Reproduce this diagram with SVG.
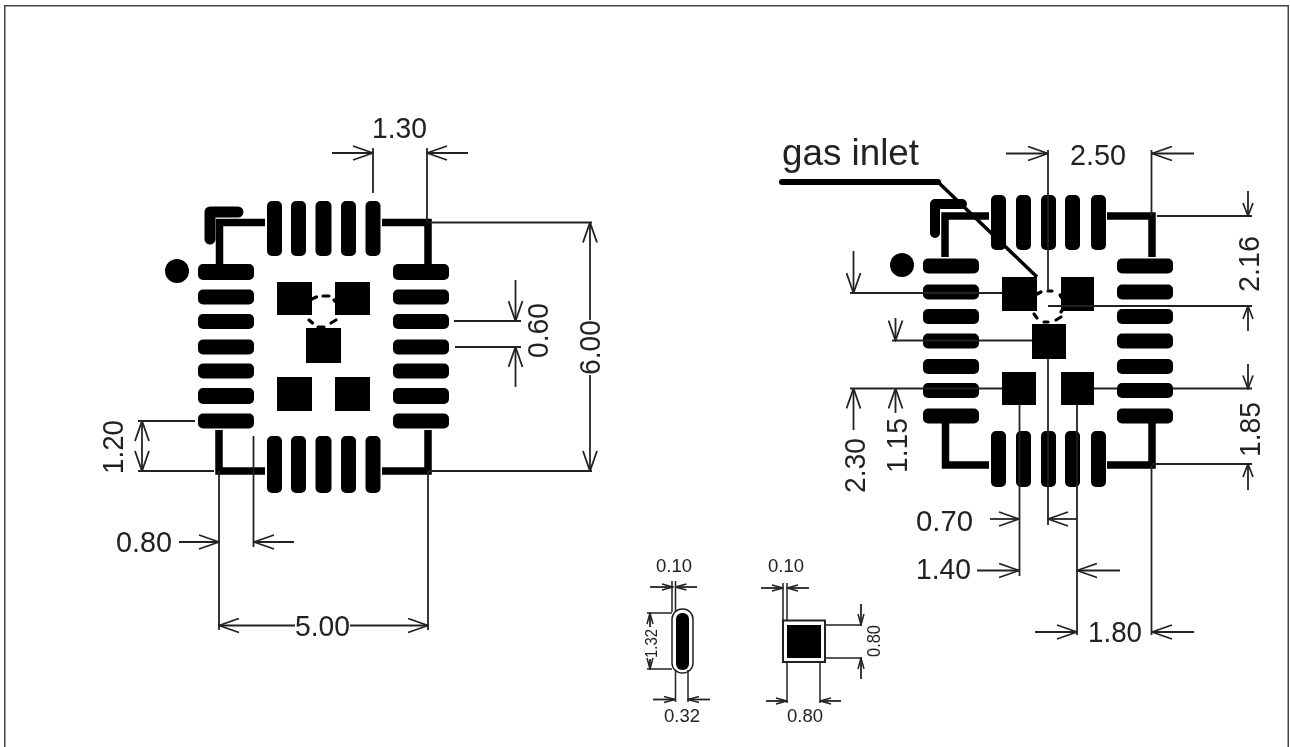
<svg xmlns="http://www.w3.org/2000/svg" width="1290" height="747" viewBox="0 0 1290 747">
<defs>
<filter id="soft" x="0" y="0" width="1" height="1" filterUnits="objectBoundingBox"><feGaussianBlur stdDeviation="0.5"/></filter>
<marker id="a" viewBox="0 0 22 16" refX="21" refY="8" markerWidth="22" markerHeight="16" markerUnits="userSpaceOnUse" orient="auto-start-reverse"><path d="M1 1L21 8L1 15" fill="none" stroke="#222" stroke-width="1.8"/></marker>
<marker id="m" viewBox="0 0 15 12" refX="14" refY="6" markerWidth="15" markerHeight="12" markerUnits="userSpaceOnUse" orient="auto-start-reverse"><path d="M1 1L14 6L1 11" fill="none" stroke="#222" stroke-width="1.7"/></marker>
<marker id="s" viewBox="0 0 13 8" refX="12" refY="4" markerWidth="13" markerHeight="8" markerUnits="userSpaceOnUse" orient="auto-start-reverse"><path d="M1 1L12 4L1 7" fill="none" stroke="#222" stroke-width="1.5"/></marker>
</defs>
<style>
.bg{fill:#fff}
.frame{fill:none;stroke:#444;stroke-width:3}
.pad{fill:#000}
.tr{fill:none;stroke:#000;stroke-width:7.5;stroke-linejoin:miter}
.dim{fill:none;stroke:#222;stroke-width:1.8}
.ar{marker-end:url(#a)}
.am{marker-end:url(#m)}
.as{marker-end:url(#s)}
.dash{fill:none;stroke:#000;stroke-width:3.2;stroke-linecap:round}
text{font-family:"Liberation Sans",Arial,sans-serif;fill:#222}
.t{font-size:30px}
.g{font-size:37px}
.x{font-size:19px}
.y{font-size:16px}
</style>
<rect class="bg" width="1290" height="747"/>
<g filter="url(#soft)">
<path class="frame" d="M4 747V5H1289V747"/>
<g id="left-package">
<circle class="pad" cx="177" cy="271" r="12"/>
<g id="left-top-pads" class="pad"><rect x="267" y="201" width="15" height="55" rx="5"/><rect x="291" y="201" width="15" height="55" rx="5"/><rect x="315.500" y="201" width="16" height="55" rx="5"/><rect x="341" y="201" width="15" height="55" rx="5"/><rect x="365.500" y="201" width="15" height="55" rx="5"/></g>
<g id="left-bottom-pads" class="pad"><rect x="267" y="436" width="15" height="57" rx="5"/><rect x="291" y="436" width="15" height="57" rx="5"/><rect x="315.500" y="436" width="16" height="57" rx="5"/><rect x="341" y="436" width="15" height="57" rx="5"/><rect x="365.500" y="436" width="15" height="57" rx="5"/></g>
<g id="left-west-pads" class="pad"><rect x="198" y="264" width="56" height="16" rx="5"/><rect x="198" y="289.500" width="56" height="15" rx="5"/><rect x="198" y="314" width="56" height="15" rx="5"/><rect x="198" y="339.500" width="56" height="15" rx="5"/><rect x="198" y="363.500" width="56" height="15" rx="5"/><rect x="198" y="388" width="56" height="16" rx="5"/><rect x="198" y="413.500" width="56" height="15" rx="5"/></g>
<g id="left-east-pads" class="pad"><rect x="393" y="264" width="56" height="16" rx="5"/><rect x="393" y="289.500" width="56" height="15" rx="5"/><rect x="393" y="314" width="56" height="15" rx="5"/><rect x="393" y="339.500" width="56" height="15" rx="5"/><rect x="393" y="363.500" width="56" height="15" rx="5"/><rect x="393" y="388" width="56" height="16" rx="5"/><rect x="393" y="413.500" width="56" height="15" rx="5"/></g>
<path class="tr" d="M238 212H210V239" style="stroke-width:11;stroke-linejoin:round;stroke-linecap:round"/>
<path class="tr" d="M265 222.500H219.500V264"/>
<path class="tr" d="M382 222.500H428V264"/>
<path class="tr" d="M219 430V471H265"/>
<path class="tr" d="M428 430V471H382"/>
<g id="left-squares" class="pad"><rect x="277" y="282" width="35" height="33"/><rect x="335" y="282" width="35" height="33"/><rect x="306" y="328" width="35" height="35"/><rect x="277" y="377" width="35" height="34"/><rect x="335" y="377" width="35" height="34"/></g>
<path class="dash" d="M312 299L316.500 297M323 296H329M334 300L336 302M309 320L312.500 323M331 323L336 320M318 327H324"/>
</g>
<g id="right-package">
<circle class="pad" cx="902" cy="265" r="12"/>
<g id="right-top-pads" class="pad"><rect x="991" y="195" width="15" height="55" rx="5"/><rect x="1016" y="195" width="15" height="55" rx="5"/><rect x="1041" y="195" width="15" height="55" rx="5"/><rect x="1065" y="195" width="15" height="55" rx="5"/><rect x="1091" y="195" width="15" height="55" rx="5"/></g>
<g id="right-bottom-pads" class="pad"><rect x="991" y="431" width="15" height="56" rx="5"/><rect x="1016" y="431" width="15" height="56" rx="5"/><rect x="1041" y="431" width="15" height="56" rx="5"/><rect x="1065" y="431" width="15" height="56" rx="5"/><rect x="1091" y="431" width="15" height="56" rx="5"/></g>
<g id="right-west-pads" class="pad"><rect x="923" y="258.500" width="56" height="15" rx="5"/><rect x="923" y="284.500" width="56" height="15" rx="5"/><rect x="923" y="309" width="56" height="15" rx="5"/><rect x="923" y="333.500" width="56" height="15" rx="5"/><rect x="923" y="359" width="56" height="15" rx="5"/><rect x="923" y="383" width="56" height="15" rx="5"/><rect x="923" y="408.500" width="56" height="15" rx="5"/></g>
<g id="right-east-pads" class="pad"><rect x="1117" y="258.500" width="56" height="15" rx="5"/><rect x="1117" y="284.500" width="56" height="15" rx="5"/><rect x="1117" y="309" width="56" height="15" rx="5"/><rect x="1117" y="333.500" width="56" height="15" rx="5"/><rect x="1117" y="359" width="56" height="15" rx="5"/><rect x="1117" y="383" width="56" height="15" rx="5"/><rect x="1117" y="408.500" width="56" height="15" rx="5"/></g>
<path class="tr" d="M962 204H935V233" style="stroke-width:10;stroke-linejoin:round;stroke-linecap:round"/>
<path class="tr" d="M989 216H945V257"/>
<path class="tr" d="M1107 216H1152V257"/>
<path class="tr" d="M945.500 423V465H989"/>
<path class="tr" d="M1152 423V465H1107"/>
<g id="right-squares" class="pad"><rect x="1002" y="277" width="35" height="34"/><rect x="1061" y="277" width="33" height="34"/><rect x="1032" y="324" width="34" height="35"/><rect x="1002" y="372" width="34" height="33"/><rect x="1061" y="372" width="33" height="33"/></g>
<path class="dash" d="M1037 294L1041 292M1048 291H1052M1060 295L1062 298M1034 314L1037 318M1056 320L1061 317M1044 322H1048M1061 312L1063 309"/>
</g>
<g id="pad-detail">
<rect x="672" y="609" width="21" height="64" rx="10" fill="none" stroke="#222" stroke-width="1.500"/>
<rect class="pad" x="676" y="613" width="13" height="57" rx="6"/>
</g>
<g id="square-detail">
<rect x="783" y="620.500" width="42" height="41.500" fill="none" stroke="#222" stroke-width="2"/>
<rect class="pad" x="787" y="625" width="34" height="33"/>
</g>
<g id="connectors">
<path d="M782 182H938" fill="none" stroke="#000" stroke-width="6" stroke-linecap="round"/>
<path d="M938 182L1037 277" fill="none" stroke="#000" stroke-width="3.500"/>
<path class="dim" d="M373 148V193M427 148V222M428 222.500H592M428 471H592M454 321H521M455 347H521M138 421H195M138 471H214M219 471V630M253.500 436V547M428 471V630"/>
<path class="dim ar" d="M332 153H373"/><path class="dim ar" d="M468 153H427"/>
<path class="dim ar" d="M590 320V222.500"/><path class="dim ar" d="M590 375V471"/>
<path class="dim ar" d="M515.500 280V321"/><path class="dim ar" d="M515.500 387V347"/>
<path class="dim ar" d="M142 446V421"/><path class="dim ar" d="M142 446V471"/>
<path class="dim ar" d="M179 542H219"/><path class="dim ar" d="M294 542H254"/>
<path class="dim ar" d="M295 625.500H219"/><path class="dim ar" d="M350 625.500H428"/>
<path class="dim" d="M1048 150V291M1151.500 150V216M1157 216H1252M1048 306H1252M1173 388.500H1252M1152 464H1252M850 293H1002M892 340.500H1032M850 388.500H1002M1094 388.500H1117M1019.500 405V576M1048 359V525M1077 405V635M1151.500 465V635"/>
<path class="dim ar" d="M1006 153.500H1048"/><path class="dim ar" d="M1194 153.500H1152"/>
<path class="dim am" d="M1248 191V216"/><path class="dim am" d="M1248 331V306"/>
<path class="dim am" d="M1248 364V388.500"/><path class="dim am" d="M1248 490V464"/>
<path class="dim ar" d="M853.500 251V293"/><path class="dim ar" d="M895.500 318V340.500"/>
<path class="dim ar" d="M853.500 430V388.500"/><path class="dim ar" d="M895.500 413V388.500"/>
<path class="dim ar" d="M990 519H1019"/><path class="dim ar" d="M1077 519H1048"/>
<path class="dim ar" d="M977 570.500H1019"/><path class="dim ar" d="M1120 570.500H1077"/>
<path class="dim ar" d="M1035 632H1077"/><path class="dim ar" d="M1194 632H1152"/>
<path class="dim" d="M672 581V612M675.500 581V612M675.500 670V702M688 670V702M647 613H672M647 669H672M783 583V620M787 583V620M825 625H862M825 658H862M787 662V703M820 662V703" style="stroke-width:1.500"/>
<path class="dim as" d="M650 587H673"/><path class="dim as" d="M697 587H675.500"/>
<path class="dim as" d="M653 699.500H675"/><path class="dim as" d="M710 699.500H688"/>
<path class="dim as" d="M650 627V613"/><path class="dim as" d="M650 659V669"/>
<path class="dim as" d="M761 588H783"/><path class="dim as" d="M809 588H787"/>
<path class="dim as" d="M861 604V625"/><path class="dim as" d="M861 679V658"/>
<path class="dim as" d="M766 701H787"/><path class="dim as" d="M841 701H820"/>
</g>
<g id="labels">
<text class="t" x="372" y="137.500" textLength="55" lengthAdjust="spacingAndGlyphs">1.30</text>
<text class="t" transform="translate(600 375) rotate(-90)" textLength="55" lengthAdjust="spacingAndGlyphs">6.00</text>
<text class="t" transform="translate(548 358) rotate(-90)" textLength="55" lengthAdjust="spacingAndGlyphs">0.60</text>
<text class="t" transform="translate(123 474) rotate(-90)" textLength="54" lengthAdjust="spacingAndGlyphs">1.20</text>
<text class="t" x="116" y="552" textLength="56" lengthAdjust="spacingAndGlyphs">0.80</text>
<text class="t" x="295" y="636" textLength="55" lengthAdjust="spacingAndGlyphs">5.00</text>
<text class="g" x="782" y="165" textLength="137" lengthAdjust="spacingAndGlyphs">gas inlet</text>
<text class="t" x="1070" y="165" textLength="56" lengthAdjust="spacingAndGlyphs">2.50</text>
<text class="t" transform="translate(1259 292) rotate(-90)" textLength="56" lengthAdjust="spacingAndGlyphs">2.16</text>
<text class="t" transform="translate(1260 457) rotate(-90)" textLength="55" lengthAdjust="spacingAndGlyphs">1.85</text>
<text class="t" transform="translate(865 493) rotate(-90)" textLength="55" lengthAdjust="spacingAndGlyphs">2.30</text>
<text class="t" transform="translate(907 473) rotate(-90)" textLength="55" lengthAdjust="spacingAndGlyphs">1.15</text>
<text class="t" x="916" y="531" textLength="57" lengthAdjust="spacingAndGlyphs">0.70</text>
<text class="t" x="916" y="579" textLength="55" lengthAdjust="spacingAndGlyphs">1.40</text>
<text class="t" x="1088" y="641.500" textLength="54" lengthAdjust="spacingAndGlyphs">1.80</text>
<text class="x" x="656" y="572" textLength="36" lengthAdjust="spacingAndGlyphs">0.10</text>
<text class="x" x="768" y="572" textLength="36" lengthAdjust="spacingAndGlyphs">0.10</text>
<text class="x" x="664" y="722" textLength="36" lengthAdjust="spacingAndGlyphs">0.32</text>
<text class="x" x="787" y="722" textLength="36" lengthAdjust="spacingAndGlyphs">0.80</text>
<text class="y" transform="translate(657 658) rotate(-90)" textLength="29" lengthAdjust="spacingAndGlyphs">1.32</text>
<text class="x" transform="translate(880 657) rotate(-90)" textLength="32" lengthAdjust="spacingAndGlyphs">0.80</text>
</g>
</g>
</svg>
